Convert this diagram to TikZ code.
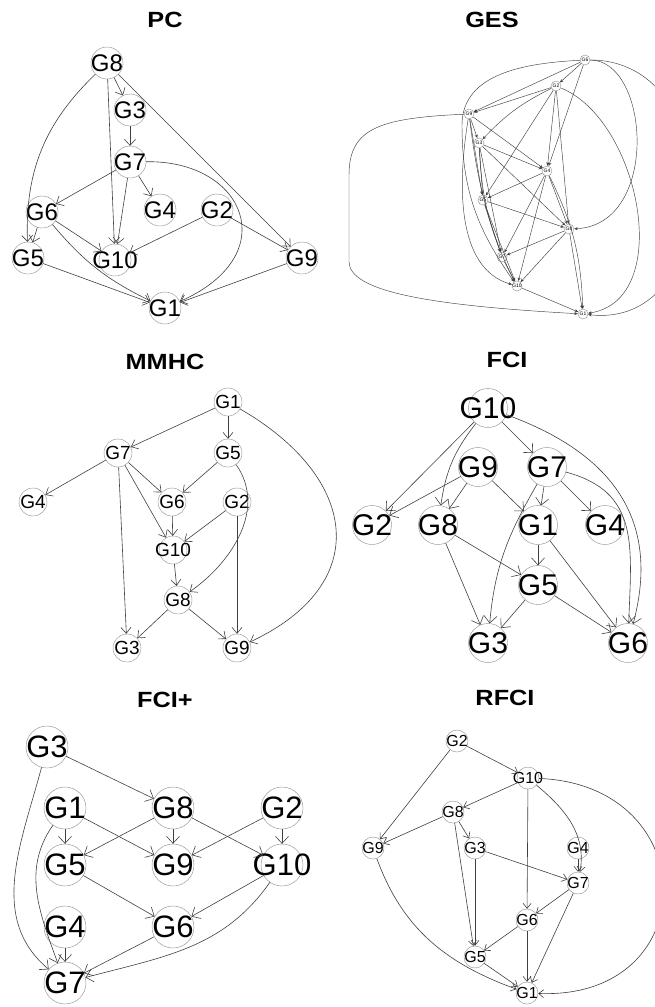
\documentclass[tikz,border=0pt]{standalone}
\usepackage{fontspec}
\setmainfont{Liberation Sans}
\newfontfamily\ttlfont{Liberation Sans}[FakeStretch=1.15]
\usetikzlibrary{arrows.meta}
\newcommand{\glab}[1]{\makebox[0pt]{#1}}
\tikzset{
  gnode/.style={circle, draw=black!45, fill=white, inner sep=0pt},
  gedge/.style={draw=black!75, line width=0.6pt},
  ttl/.style={font=\ttlfont\bfseries\fontsize{22}{22}\selectfont},
  pcn/.style={gnode, minimum size=32pt, font=\fontsize{24}{24}\selectfont},
  pce/.style={gedge, -{Straight Barb[length=6pt,width=11pt]}},
  mmn/.style={gnode, minimum size=28pt, font=\fontsize{19}{19}\selectfont},
  mme/.style={gedge, -{Straight Barb[length=6pt,width=10pt]}},
  fcn/.style={gnode, minimum size=39pt, font=\fontsize{30}{30}\selectfont},
  fce/.style={gedge, -{Straight Barb[length=7pt,width=13pt]}},
  fpn/.style={gnode, minimum size=42pt, font=\fontsize{31}{31}\selectfont},
  fpe/.style={gedge, -{Straight Barb[length=7pt,width=13pt]}},
  rfn/.style={gnode, minimum size=22pt, font=\fontsize{16}{16}\selectfont},
  rfe/.style={gedge, -{Straight Barb[length=5pt,width=8pt]}},
  gsn/.style={gnode, minimum size=10pt, font=\fontsize{5}{5}\selectfont},
  gse/.style={gedge, line width=0.45pt, -{Stealth[length=3.5pt,width=3pt]}},
}
\begin{document}
\begin{tikzpicture}[x=1pt,y=1pt]
\useasboundingbox (0,0) rectangle (655,-1007);

% PC
\node[ttl] (tpc) at (165,-20) {PC};
\node[pcn] (pc8)  at (107,-63)  {\glab{G8}};
\node[pcn] (pc3)  at (130,-110) {\glab{G3}};
\node[pcn] (pc7)  at (130,-162) {\glab{G7}};
\node[pcn] (pc6)  at (42,-212)  {\glab{G6}};
\node[pcn] (pc4)  at (160,-210) {\glab{G4}};
\node[pcn] (pc2)  at (217,-210) {\glab{G2}};
\node[pcn] (pc5)  at (28,-258)  {\glab{G5}};
\node[pcn] (pc10) at (115,-260) {\glab{G10}};
\node[pcn] (pc9)  at (302,-258) {\glab{G9}};
\node[pcn] (pc1)  at (165,-308) {\glab{G1}};
\draw[pce] (pc8) -- (pc3);
\draw[pce] (pc8) to[bend right=24] (pc5);
\draw[pce] (pc8) -- (pc10);
\draw[pce] (pc8) -- (pc9);
\draw[pce] (pc3) -- (pc7);
\draw[pce] (pc7) -- (pc6);
\draw[pce] (pc7) -- (pc4);
\draw[pce] (pc7) -- (pc10);
\draw[pce] (pc7) .. controls (245,-160) and (285,-255) .. (pc1);
\draw[pce] (pc6) -- (pc5);
\draw[pce] (pc6) -- (pc10);
\draw[pce] (pc6) to[bend right=12] (pc1);
\draw[pce] (pc2) -- (pc10);
\draw[pce] (pc2) -- (pc9);
\draw[pce] (pc5) -- (pc1);
\draw[pce] (pc9) -- (pc1);

% GES
\node[ttl] (tges) at (492,-20) {GES};
\node[gsn] (ges6)  at (585,-60)  {G6};
\node[gsn] (ges2)  at (556,-86)  {G2};
\node[gsn] (ges9)  at (469,-114) {G9};
\node[gsn] (ges3)  at (479,-143) {G3};
\node[gsn] (ges4)  at (547,-171) {G4};
\node[gsn] (ges5)  at (483,-200) {G5};
\node[gsn] (ges8)  at (569,-229) {G8};
\node[gsn] (ges7)  at (502,-257) {G7};
\node[gsn] (ges10) at (517,-286) {G10};
\node[gsn] (ges1)  at (583,-314) {G1};
\draw[gse] (ges6) -- (ges2);
\draw[gse] (ges6) -- (ges4);
\draw[gse] (ges6) -- (ges9);
\draw[gse] (ges6) to[out=183,in=90] (462,-125) to[out=-90,in=125] (ges10);
\draw[gse] (ges6) .. controls (650,-60) and (660,-225) .. (ges8);
\draw[gse] (ges6) .. controls (730,-60) and (725,-330) .. (ges1);
\draw[gse] (ges2) -- (ges9);
\draw[gse] (ges2) to[bend right=10] (ges3);
\draw[gse] (ges2) -- (ges5);
\draw[gse] (ges2) -- (ges4);
\draw[gse] (ges2) -- (ges8);
\draw[gse] (ges2) .. controls (640,-120) and (675,-300) .. (ges1);
\draw[gse] (ges9) -- (ges3);
\draw[gse] (ges9) -- (ges4);
\draw[gse] (ges9) -- (ges5);
\draw[gse] (ges9) to[bend right=6] (ges7);
\draw[gse] (ges9) .. controls (455,-200) and (462,-270) .. (ges10);
\draw[gse] (ges9) .. controls (380,-118) and (349,-128) .. (349,-175) -- (349,-262) .. controls (350,-290) and (420,-305) .. (ges1);
\draw[gse] (ges3) -- (ges4);
\draw[gse] (ges3) -- (ges5);
\draw[gse] (ges3) -- (ges8);
\draw[gse] (ges3) -- (ges7);
\draw[gse] (ges3) to[bend right=12] (ges10);
\draw[gse] (ges4) -- (ges5);
\draw[gse] (ges4) -- (ges8);
\draw[gse] (ges4) -- (ges7);
\draw[gse] (ges4) -- (ges10);
\draw[gse] (ges4) to[bend left=12] (ges1);
\draw[gse] (ges5) -- (ges8);
\draw[gse] (ges5) -- (ges7);
\draw[gse] (ges5) -- (ges10);
\draw[gse] (ges8) -- (ges7);
\draw[gse] (ges8) -- (ges10);
\draw[gse] (ges8) -- (ges1);
\draw[gse] (ges7) -- (ges10);
\draw[gse] (ges10) -- (ges1);

% MMHC
\node[ttl] (tmm) at (165,-362) {MMHC};
\node[mmn] (mm1)  at (228,-402) {\glab{G1}};
\node[mmn] (mm7)  at (118,-453) {\glab{G7}};
\node[mmn] (mm5)  at (228,-453) {\glab{G5}};
\node[mmn] (mm4)  at (33,-502)  {\glab{G4}};
\node[mmn] (mm6)  at (172,-502) {\glab{G6}};
\node[mmn] (mm2)  at (237,-502) {\glab{G2}};
\node[mmn] (mm10) at (173,-550) {\glab{G10}};
\node[mmn] (mm8)  at (178,-600) {\glab{G8}};
\node[mmn] (mm3)  at (127,-648) {\glab{G3}};
\node[mmn] (mm9)  at (237,-648) {\glab{G9}};
\draw[mme] (mm1) -- (mm7);
\draw[mme] (mm1) -- (mm5);
\draw[mme] (mm1) to[out=-30,in=25,looseness=1.5] (mm9);
\draw[mme] (mm7) -- (mm4);
\draw[mme] (mm7) -- (mm6);
\draw[mme] (mm7) -- (mm10);
\draw[mme] (mm7) -- (mm3);
\draw[mme] (mm5) -- (mm6);
\draw[mme] (mm5) to[out=-55,in=35] (mm8);
\draw[mme] (mm6) -- (mm10);
\draw[mme] (mm2) -- (mm10);
\draw[mme] (mm2) -- (mm9);
\draw[mme] (mm10) -- (mm8);
\draw[mme] (mm8) -- (mm3);
\draw[mme] (mm8) -- (mm9);

% FCI
\node[ttl] (tfci) at (507,-360) {FCI};
\node[fcn] (fc10) at (488,-408) {\glab{G10}};
\node[fcn] (fc9)  at (478,-467) {\glab{G9}};
\node[fcn] (fc7)  at (547,-467) {\glab{G7}};
\node[fcn] (fc2)  at (372,-525) {\glab{G2}};
\node[fcn] (fc8)  at (438,-525) {\glab{G8}};
\node[fcn] (fc1)  at (538,-525) {\glab{G1}};
\node[fcn] (fc4)  at (605,-525) {\glab{G4}};
\node[fcn] (fc5)  at (538,-585) {\glab{G5}};
\node[fcn] (fc3)  at (488,-643) {\glab{G3}};
\node[fcn] (fc6)  at (628,-643) {\glab{G6}};
\draw[fce] (fc10) -- (fc2);
\draw[fce] (fc10) to[bend right=15] (fc8);
\draw[fce] (fc10) -- (fc7);
\draw[fce] (fc10) to[out=-20,in=75,looseness=1.15] (fc6);
\draw[fce] (fc9) -- (fc2);
\draw[fce] (fc9) -- (fc8);
\draw[fce] (fc9) -- (fc1);
\draw[fce] (fc7) -- (fc1);
\draw[fce] (fc7) -- (fc4);
\draw[fce] (fc7) to[out=-120,in=85] (fc3);
\draw[fce] (fc7) to[out=-15,in=88,looseness=1.2] (fc6);
\draw[fce] (fc8) -- (fc5);
\draw[fce] (fc8) -- (fc3);
\draw[fce] (fc1) -- (fc5);
\draw[fce] (fc1) -- (fc6);
\draw[fce] (fc5) -- (fc3);
\draw[fce] (fc5) -- (fc6);

% FCI+
\node[ttl] (tfcp) at (165,-700) {FCI+};
\node[fpn] (fp3)  at (47,-747)  {\glab{G3}};
\node[fpn] (fp1)  at (65,-808)  {\glab{G1}};
\node[fpn] (fp8)  at (173,-808) {\glab{G8}};
\node[fpn] (fp2)  at (282,-808) {\glab{G2}};
\node[fpn] (fp5)  at (65,-865)  {\glab{G5}};
\node[fpn] (fp9)  at (173,-865) {\glab{G9}};
\node[fpn] (fp10) at (282,-865) {\glab{G10}};
\node[fpn] (fp4)  at (65,-927)  {\glab{G4}};
\node[fpn] (fp6)  at (173,-927) {\glab{G6}};
\node[fpn] (fp7)  at (65,-983)  {\glab{G7}};
\draw[fpe] (fp3) -- (fp8);
\draw[fpe] (fp3) to[out=-105,in=140] (fp7);
\draw[fpe] (fp1) -- (fp5);
\draw[fpe] (fp1) -- (fp9);
\draw[fpe] (fp1) to[out=-125,in=110] (fp7);
\draw[fpe] (fp8) -- (fp5);
\draw[fpe] (fp8) -- (fp9);
\draw[fpe] (fp8) -- (fp10);
\draw[fpe] (fp2) -- (fp9);
\draw[fpe] (fp2) -- (fp10);
\draw[fpe] (fp5) -- (fp6);
\draw[fpe] (fp10) -- (fp6);
\draw[fpe] (fp10) to[out=-125,in=15] (fp7);
\draw[fpe] (fp4) -- (fp7);
\draw[fpe] (fp6) -- (fp7);

% RFCI
\node[ttl] (trf) at (505,-698) {RFCI};
\node[rfn] (rf2)  at (457,-741) {\glab{G2}};
\node[rfn] (rf10) at (528,-778) {\glab{G10}};
\node[rfn] (rf8)  at (453,-812) {\glab{G8}};
\node[rfn] (rf9)  at (373,-848) {\glab{G9}};
\node[rfn] (rf3)  at (475,-848) {\glab{G3}};
\node[rfn] (rf4)  at (578,-848) {\glab{G4}};
\node[rfn] (rf7)  at (578,-883) {\glab{G7}};
\node[rfn] (rf6)  at (527,-920) {\glab{G6}};
\node[rfn] (rf5)  at (475,-957) {\glab{G5}};
\node[rfn] (rf1)  at (527,-993) {\glab{G1}};
\draw[rfe] (rf2) -- (rf10);
\draw[rfe] (rf2) -- (rf9);
\draw[rfe] (rf10) -- (rf8);
\draw[rfe] (rf10) -- (rf6);
\draw[rfe] (rf10) to[out=-40,in=80] (rf7);
\draw[rfe] (rf10) .. controls (705,-785) and (705,-1000) .. (rf1);
\draw[rfe] (rf8) -- (rf9);
\draw[rfe] (rf8) -- (rf3);
\draw[rfe] (rf8) -- (rf5);
\draw[rfe] (rf3) -- (rf5);
\draw[rfe] (rf3) -- (rf7);
\draw[rfe] (rf4) -- (rf7);
\draw[rfe] (rf7) -- (rf6);
\draw[rfe] (rf7) -- (rf1);
\draw[rfe] (rf6) -- (rf5);
\draw[rfe] (rf6) -- (rf1);
\draw[rfe] (rf5) -- (rf1);
\draw[rfe] (rf9) to[out=-70,in=160] (rf1);
\end{tikzpicture}
\end{document}
